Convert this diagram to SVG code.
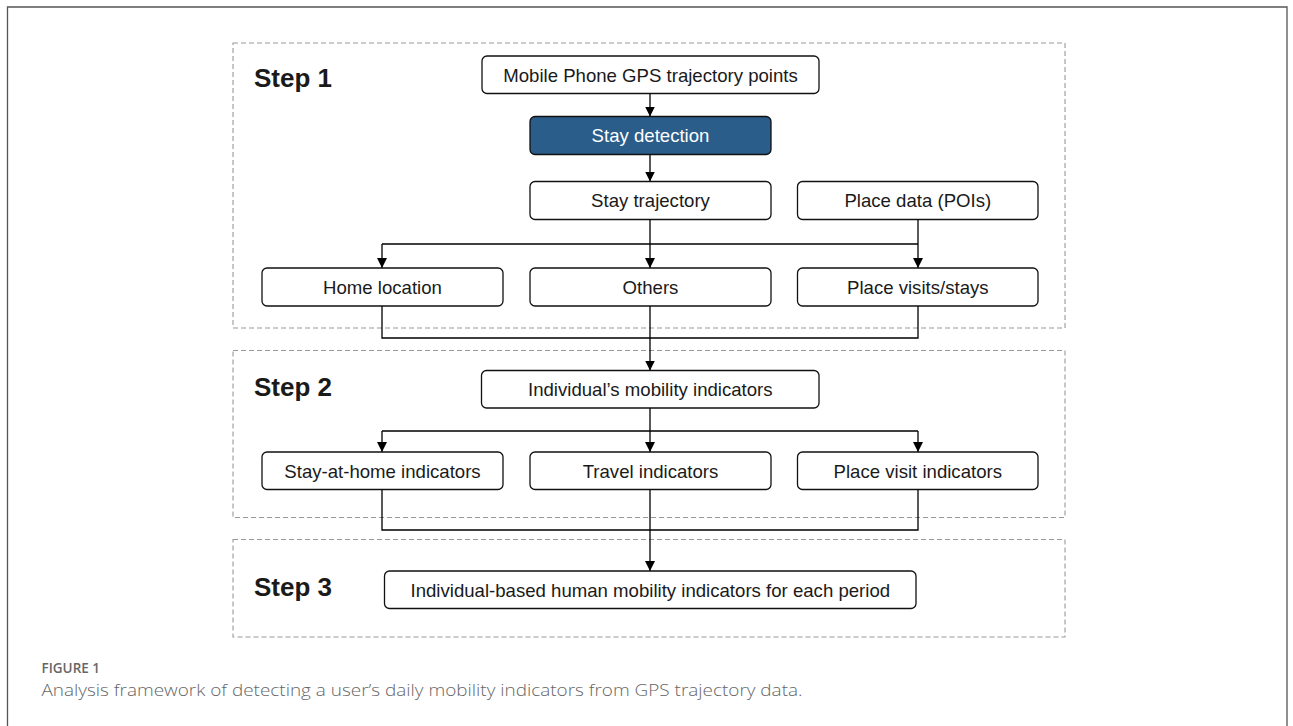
<svg xmlns="http://www.w3.org/2000/svg" width="1293" height="726" viewBox="0 0 1293 726">
<defs>
<marker id="arr" markerWidth="10" markerHeight="10" viewBox="0 0 10 10" refX="10" refY="5" orient="auto" markerUnits="userSpaceOnUse">
<path d="M0,0 L10,5 L0,10 Z" fill="#000"/>
</marker>
<style>
.frame{fill:none;stroke:#555;stroke-width:1.3}
.step{fill:none;stroke:#9a9a9a;stroke-width:1.1;stroke-dasharray:5 3}
.box{fill:#fff;stroke:#111;stroke-width:1.3}
.dark{fill:#2a5d8a;stroke:#111;stroke-width:1.3}
.t{font-family:"Liberation Sans",Arial,Helvetica,sans-serif;font-size:18.6px;fill:#1a1a1a;text-anchor:middle}
.tw{fill:#fff}
.st{font-family:"Liberation Sans",Arial,Helvetica,sans-serif;font-size:26px;font-weight:bold;fill:#1a1a1a}
.c{fill:none;stroke:#000;stroke-width:1.3}
.cap1{font-family:"Open Sans","Noto Sans",sans-serif;font-size:13.5px;font-weight:600;fill:#666}
.cap2{font-family:"Open Sans","Noto Sans",sans-serif;font-size:17px;font-weight:300;fill:#666}
</style>
</defs>
<rect width="1293" height="726" fill="#fff"/>
<path class="frame" d="M7.5,726 V7 H1287 V726"/>

<g id="step1"><rect class="step" x="233" y="43" width="832" height="285"/><text class="st" x="254" y="87">Step 1</text></g>
<g id="step2"><rect class="step" x="233" y="350.5" width="832" height="167"/><text class="st" x="254" y="396">Step 2</text></g>
<g id="step3"><rect class="step" x="233" y="539.5" width="832" height="97.5"/><text class="st" x="254" y="596">Step 3</text></g>

<g id="connectors">
<path class="c" d="M650,93.5 V116.5" marker-end="url(#arr)"/>
<path class="c" d="M650,154.5 V181.5" marker-end="url(#arr)"/>
<path class="c" d="M650,219.5 V244 M382,244 H918"/>
<path class="c" d="M382,244 V268" marker-end="url(#arr)"/>
<path class="c" d="M650,244 V268" marker-end="url(#arr)"/>
<path class="c" d="M918,219.5 V268" marker-end="url(#arr)"/>
<path class="c" d="M382,306 V338 H918 V306"/>
<path class="c" d="M650,306 V370.5" marker-end="url(#arr)"/>
<path class="c" d="M650,408 V431 M382,431 H918"/>
<path class="c" d="M382,431 V452" marker-end="url(#arr)"/>
<path class="c" d="M650,431 V452" marker-end="url(#arr)"/>
<path class="c" d="M918,431 V452" marker-end="url(#arr)"/>
<path class="c" d="M382,489.5 V530 H918 V489.5"/>
<path class="c" d="M650,489.5 V571" marker-end="url(#arr)"/>
</g>

<g id="n_gps"><rect class="box" x="482" y="56" width="337" height="37.5" rx="5"/><text class="t" x="650.5" y="81.5">Mobile Phone GPS trajectory points</text></g>
<g id="n_stay"><rect class="dark" x="530" y="116.5" width="241" height="38" rx="5"/><text class="t tw" x="650.5" y="142">Stay detection</text></g>
<g id="n_traj"><rect class="box" x="530" y="181.5" width="241" height="38" rx="5"/><text class="t" x="650.5" y="207">Stay trajectory</text></g>
<g id="n_place"><rect class="box" x="797.5" y="181.5" width="240.5" height="38" rx="5"/><text class="t" x="917.8" y="207">Place data (POIs)</text></g>
<g id="n_home"><rect class="box" x="262" y="268" width="241" height="38" rx="5"/><text class="t" x="382.5" y="293.5">Home location</text></g>
<g id="n_others"><rect class="box" x="530" y="268" width="241" height="38" rx="5"/><text class="t" x="650.5" y="293.5">Others</text></g>
<g id="n_visits"><rect class="box" x="797.5" y="268" width="240.5" height="38" rx="5"/><text class="t" x="917.8" y="293.5">Place visits/stays</text></g>
<g id="n_ind"><rect class="box" x="481.5" y="370.5" width="337.5" height="37.5" rx="5"/><text class="t" x="650.3" y="396">Individual’s mobility indicators</text></g>
<g id="n_sah"><rect class="box" x="262" y="452" width="241" height="37.5" rx="5"/><text class="t" x="382.5" y="477.5">Stay-at-home indicators</text></g>
<g id="n_travel"><rect class="box" x="530" y="452" width="241" height="37.5" rx="5"/><text class="t" x="650.5" y="477.5">Travel indicators</text></g>
<g id="n_pvi"><rect class="box" x="797.5" y="452" width="240.5" height="37.5" rx="5"/><text class="t" x="917.8" y="477.5">Place visit indicators</text></g>
<g id="n_final"><rect class="box" x="384.5" y="571" width="531.5" height="37.5" rx="5"/><text class="t" x="650.3" y="596.5">Individual-based human mobility indicators for each period</text></g>

<g id="caption">
<text class="cap1" x="41.5" y="673">FIGURE 1</text>
<text class="cap2" x="41.5" y="696" textLength="761" lengthAdjust="spacingAndGlyphs">Analysis framework of detecting a user’s daily mobility indicators from GPS trajectory data.</text>
</g>
</svg>
